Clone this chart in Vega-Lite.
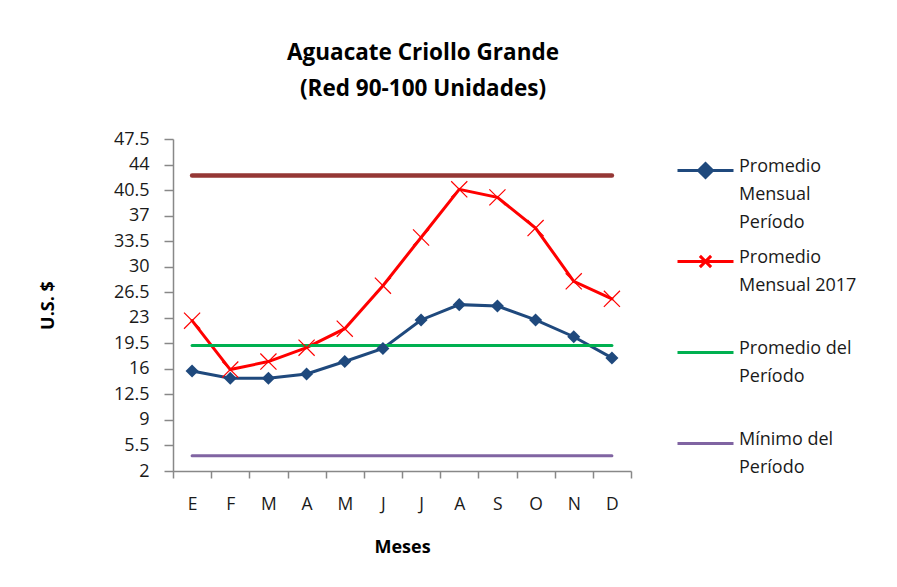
{
  "$schema": "https://vega.github.io/schema/vega-lite/v6.json",
  "width": 458,
  "height": 332,
  "autosize": {"type": "none"},
  "padding": {"left": 173, "top": 139, "right": 266, "bottom": 116},
  "background": "white",
  "config": {
    "font": "Open Sans",
    "view": {"stroke": null},
    "axis": {"grid": false, "domainColor": "#888888", "tickColor": "#888888", "labelColor": "#1a1a1a", "titleColor": "#000000", "labelFont": "Open Sans", "titleFont": "Open Sans"},
    "legend": {"labelFont": "Open Sans"},
    "title": {"font": "Open Sans"}
  },
  "title": {
    "text": ["Aguacate Criollo Grande", "(Red 90-100 Unidades)"],
    "fontSize": 22.5,
    "fontWeight": "bold",
    "color": "#000000",
    "anchor": "middle",
    "dx": 21,
    "offset": 30,
    "lineHeight": 36
  },
  "data": {
    "values": [
      {"mes": "Ene", "serie": "Promedio Mensual Período", "valor": 15.7},
      {"mes": "Feb", "serie": "Promedio Mensual Período", "valor": 14.7},
      {"mes": "Mar", "serie": "Promedio Mensual Período", "valor": 14.7},
      {"mes": "Abr", "serie": "Promedio Mensual Período", "valor": 15.3},
      {"mes": "May", "serie": "Promedio Mensual Período", "valor": 17.0},
      {"mes": "Jun", "serie": "Promedio Mensual Período", "valor": 18.8},
      {"mes": "Jul", "serie": "Promedio Mensual Período", "valor": 22.7},
      {"mes": "Ago", "serie": "Promedio Mensual Período", "valor": 24.8},
      {"mes": "Sep", "serie": "Promedio Mensual Período", "valor": 24.6},
      {"mes": "Oct", "serie": "Promedio Mensual Período", "valor": 22.7},
      {"mes": "Nov", "serie": "Promedio Mensual Período", "valor": 20.4},
      {"mes": "Dic", "serie": "Promedio Mensual Período", "valor": 17.5},
      {"mes": "Ene", "serie": "Promedio Mensual 2017", "valor": 22.6},
      {"mes": "Feb", "serie": "Promedio Mensual 2017", "valor": 15.9},
      {"mes": "Mar", "serie": "Promedio Mensual 2017", "valor": 17.0},
      {"mes": "Abr", "serie": "Promedio Mensual 2017", "valor": 18.9},
      {"mes": "May", "serie": "Promedio Mensual 2017", "valor": 21.5},
      {"mes": "Jun", "serie": "Promedio Mensual 2017", "valor": 27.4},
      {"mes": "Jul", "serie": "Promedio Mensual 2017", "valor": 34.0},
      {"mes": "Ago", "serie": "Promedio Mensual 2017", "valor": 40.6},
      {"mes": "Sep", "serie": "Promedio Mensual 2017", "valor": 39.5},
      {"mes": "Oct", "serie": "Promedio Mensual 2017", "valor": 35.3},
      {"mes": "Nov", "serie": "Promedio Mensual 2017", "valor": 28.0},
      {"mes": "Dic", "serie": "Promedio Mensual 2017", "valor": 25.6},
      {"mes": "Ene", "serie": "Promedio del Período", "valor": 19.2},
      {"mes": "Feb", "serie": "Promedio del Período", "valor": 19.2},
      {"mes": "Mar", "serie": "Promedio del Período", "valor": 19.2},
      {"mes": "Abr", "serie": "Promedio del Período", "valor": 19.2},
      {"mes": "May", "serie": "Promedio del Período", "valor": 19.2},
      {"mes": "Jun", "serie": "Promedio del Período", "valor": 19.2},
      {"mes": "Jul", "serie": "Promedio del Período", "valor": 19.2},
      {"mes": "Ago", "serie": "Promedio del Período", "valor": 19.2},
      {"mes": "Sep", "serie": "Promedio del Período", "valor": 19.2},
      {"mes": "Oct", "serie": "Promedio del Período", "valor": 19.2},
      {"mes": "Nov", "serie": "Promedio del Período", "valor": 19.2},
      {"mes": "Dic", "serie": "Promedio del Período", "valor": 19.2},
      {"mes": "Ene", "serie": "Mínimo del Período", "valor": 4.1},
      {"mes": "Feb", "serie": "Mínimo del Período", "valor": 4.1},
      {"mes": "Mar", "serie": "Mínimo del Período", "valor": 4.1},
      {"mes": "Abr", "serie": "Mínimo del Período", "valor": 4.1},
      {"mes": "May", "serie": "Mínimo del Período", "valor": 4.1},
      {"mes": "Jun", "serie": "Mínimo del Período", "valor": 4.1},
      {"mes": "Jul", "serie": "Mínimo del Período", "valor": 4.1},
      {"mes": "Ago", "serie": "Mínimo del Período", "valor": 4.1},
      {"mes": "Sep", "serie": "Mínimo del Período", "valor": 4.1},
      {"mes": "Oct", "serie": "Mínimo del Período", "valor": 4.1},
      {"mes": "Nov", "serie": "Mínimo del Período", "valor": 4.1},
      {"mes": "Dic", "serie": "Mínimo del Período", "valor": 4.1},
      {"mes": "Ene", "serie": "Máximo del Período", "valor": 42.5},
      {"mes": "Feb", "serie": "Máximo del Período", "valor": 42.5},
      {"mes": "Mar", "serie": "Máximo del Período", "valor": 42.5},
      {"mes": "Abr", "serie": "Máximo del Período", "valor": 42.5},
      {"mes": "May", "serie": "Máximo del Período", "valor": 42.5},
      {"mes": "Jun", "serie": "Máximo del Período", "valor": 42.5},
      {"mes": "Jul", "serie": "Máximo del Período", "valor": 42.5},
      {"mes": "Ago", "serie": "Máximo del Período", "valor": 42.5},
      {"mes": "Sep", "serie": "Máximo del Período", "valor": 42.5},
      {"mes": "Oct", "serie": "Máximo del Período", "valor": 42.5},
      {"mes": "Nov", "serie": "Máximo del Período", "valor": 42.5},
      {"mes": "Dic", "serie": "Máximo del Período", "valor": 42.5}
    ]
  },
  "encoding": {
    "x": {
      "field": "mes",
      "type": "ordinal",
      "sort": ["Ene", "Feb", "Mar", "Abr", "May", "Jun", "Jul", "Ago", "Sep", "Oct", "Nov", "Dic"],
      "scale": {"type": "band", "paddingInner": 0, "paddingOuter": 0},
      "axis": {
        "title": "Meses",
        "titleFontSize": 18,
        "titleFontWeight": "bold",
        "titlePadding": 26,
        "labelExpr": "substring(datum.label, 0, 1)",
        "labelAngle": 0,
        "labelFontSize": 17.5,
        "labelPadding": 17,
        "tickSize": 7,
        "tickBand": "extent",
        "domainWidth": 1.5,
        "tickWidth": 1.5
      }
    },
    "y": {
      "field": "valor",
      "type": "quantitative",
      "scale": {"domain": [2, 47.5], "nice": false, "zero": false},
      "axis": {
        "title": "U.S. $",
        "titleFontSize": 18,
        "titleFontWeight": "bold",
        "titlePadding": 56,
        "values": [2, 5.5, 9, 12.5, 16, 19.5, 23, 26.5, 30, 33.5, 37, 40.5, 44, 47.5],
        "format": ".1~f",
        "labelFontSize": 18,
        "labelPadding": 15,
        "tickSize": 9,
        "domainWidth": 1.5,
        "tickWidth": 1.5
      }
    }
  },
  "layer": [
    {
      "transform": [{"filter": "datum.serie !== 'Máximo del Período'"}],
      "mark": {"type": "line", "strokeCap": "round"},
      "encoding": {
        "color": {
          "field": "serie",
          "type": "nominal",
          "scale": {
            "domain": ["Promedio Mensual Período", "Promedio Mensual 2017", "Promedio del Período", "Mínimo del Período"],
            "range": ["#1F497D", "#FF0000", "#00B050", "#8064A2"]
          },
          "legend": {
            "title": null,
            "orient": "none",
            "legendX": 503,
            "legendY": 2,
            "padding": 0,
            "symbolType": "M-1,0L1,0",
            "symbolSize": 3136,
            "symbolStrokeWidth": 3.5,
            "labelFontSize": 18,
            "labelColor": "#1a1a1a",
            "labelOffset": 4,
            "labelLimit": 0,
            "labelBaseline": "top",
            "gridAlign": "all",
            "rowPadding": -2,
            "labelExpr": "datum.label === 'Promedio Mensual Período' ? ['Promedio', 'Mensual', 'Período'] : datum.label === 'Promedio Mensual 2017' ? ['Promedio', 'Mensual 2017'] : datum.label === 'Promedio del Período' ? ['Promedio del', 'Período'] : ['Mínimo del', 'Período']",
            "encode": {
              "symbols": {
                "update": {
                  "shape": {"signal": "datum.value === 'Promedio Mensual Período' ? 'M-1,0L1,0M-0.25,0L0,-0.25L0.25,0L0,0.25Z' : datum.value === 'Promedio Mensual 2017' ? 'M-1,0L1,0M-0.2,-0.2L0.2,0.2M-0.2,0.2L0.2,-0.2' : 'M-1,0L1,0'"},
                  "fill": {"signal": "datum.value === 'Promedio Mensual Período' ? '#1F497D' : 'transparent'"}
                }
              },
              "labels": {
                "update": {
                  "dy": {"value": -13},
                  "lineHeight": {"value": 28}
                }
              }
            }
          }
        },
        "strokeWidth": {
          "field": "serie",
          "type": "nominal",
          "scale": {
            "domain": ["Promedio Mensual Período", "Promedio Mensual 2017", "Promedio del Período", "Mínimo del Período"],
            "range": [3, 3, 4.5, 4.5]
          },
          "legend": null
        }
      }
    },
    {
      "transform": [{"filter": "datum.serie === 'Promedio Mensual Período'"}],
      "mark": {"type": "point", "shape": "diamond", "filled": true, "color": "#1F497D", "size": 170, "opacity": 1}
    },
    {
      "transform": [{"filter": "datum.serie === 'Promedio Mensual 2017'"}],
      "mark": {"type": "point", "shape": "M-1,-1L1,1M-1,1L1,-1", "filled": false, "color": "#FF0000", "size": 260, "strokeWidth": 1.2, "opacity": 1}
    },
    {
      "transform": [{"filter": "datum.serie === 'Máximo del Período'"}],
      "mark": {"type": "line", "color": "#953735", "strokeWidth": 4.5, "strokeCap": "round"}
    }
  ]
}
